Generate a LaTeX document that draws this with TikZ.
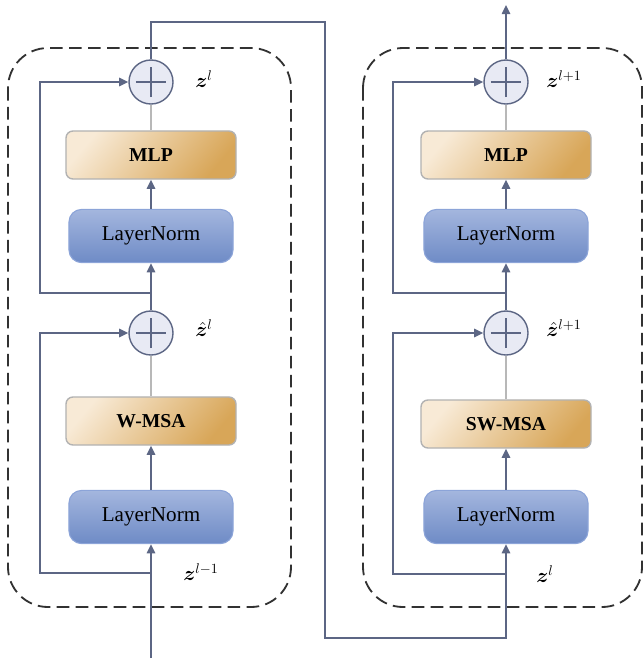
\documentclass[tikz,border=0pt]{standalone}
\usepackage{amsmath, bm}
\usepackage{fontspec}
\setmainfont{Liberation Serif}
\usepackage{tikz}
\usetikzlibrary{calc, positioning, arrows.meta}
\usepackage{xcolor}
\definecolor{colFlow}{RGB}{92, 102, 132}
\definecolor{colMlpA}{RGB}{248, 234, 214}
\definecolor{colMlpB}{RGB}{216, 166, 88}
\definecolor{colLnA}{RGB}{164, 182, 222}
\definecolor{colLnB}{RGB}{110, 139, 198}
\definecolor{colLnBorder}{RGB}{140, 164, 216}
\definecolor{colPlus}{RGB}{232, 234, 244}
\definecolor{colDash}{RGB}{50, 50, 50}

\begin{document}
\begin{tikzpicture}[
  x=0.025cm, y=-0.025cm,
  >={Triangle[length=6.5pt, width=6pt]},
  flow/.style={draw=colFlow, line width=1.1pt},
  faint/.style={draw=black!28, line width=0.9pt},
  mlpbox/.style={rounded corners=5pt, draw=black!30, line width=1pt,
                 top color=colMlpA, bottom color=colMlpB, shading angle=50,
                 minimum width=4.25cm, minimum height=1.2cm,
                 font=\fontsize{14}{16}\selectfont\bfseries},
  lnbox/.style={rounded corners=9pt, draw=colLnBorder, line width=0.8pt,
                top color=colLnA, bottom color=colLnB,
                minimum width=4.1cm, minimum height=1.33cm,
                font=\fontsize{15}{17}\selectfont},
  plusnode/.style={circle, draw=colFlow, line width=1pt, fill=colPlus,
                   minimum size=1.1cm, inner sep=0pt,
                   path picture={
                     \draw[colFlow, line width=0.9pt]
                       ([xshift=-0.38cm]path picture bounding box.center) --
                       ([xshift=0.38cm]path picture bounding box.center)
                       ([yshift=-0.38cm]path picture bounding box.center) --
                       ([yshift=0.38cm]path picture bounding box.center);}},
  zlab/.style={font=\fontsize{14}{16}\selectfont, inner sep=1pt},
  block/.style={draw=colDash, line width=1.3pt, dash pattern=on 9pt off 4.5pt,
                rounded corners=1cm}
]
\useasboundingbox (0,0) rectangle (644,659);

% ---------- Blocs en pointillés ----------
\draw[block] (8,48) rectangle (291,607);
\draw[block] (363,48) rectangle (642,607);

% ---------- Bloc gauche ----------
\node[plusnode] (p1) at (151,82) {};
\node[mlpbox]   (mlp1) at (151,155) {MLP};
\node[lnbox]    (ln1) at (151,236) {LayerNorm};
\node[plusnode] (p2) at (151,333) {};
\node[mlpbox]   (msa1) at (151,421) {W-MSA};
\node[lnbox]    (ln2) at (151,517) {LayerNorm};

\node[zlab] (z1)  at (204,79)  {$\bm{z}^{l}$};
\node[zlab] (zh1) at (204,328) {$\hat{\bm{z}}^{l}$};
\node[zlab] (z0)  at (201,572) {$\bm{z}^{l-1}$};

% ---------- Bloc droit ----------
\node[plusnode] (p3) at (506,82) {};
\node[mlpbox]   (mlp2) at (506,155) {MLP};
\node[lnbox]    (ln3) at (506,236) {LayerNorm};
\node[plusnode] (p4) at (506,333) {};
\node[mlpbox]   (msa2) at (506,424) {SW-MSA};
\node[lnbox]    (ln4) at (506,517) {LayerNorm};

\node[zlab] (z3)  at (564,79)  {$\bm{z}^{l+1}$};
\node[zlab] (zh3) at (564,328) {$\hat{\bm{z}}^{l+1}$};
\node[zlab] (z2)  at (545,574) {$\bm{z}^{l}$};

% ---------- Points de passage ----------
\coordinate (in)    at (151,658);
\coordinate (out)   at (506,5);
\coordinate (turnA) at (325,22);
\coordinate (turnB) at (325,638);
\coordinate (j1) at (151,293);
\coordinate (j2) at (151,573);
\coordinate (j3) at (506,293);
\coordinate (j4) at (506,574);
\coordinate (skipL) at (40,0);
\coordinate (skipR) at (393,0);

% ---------- Flux bloc gauche ----------
\draw[flow, ->] (in) -- (ln2.south);
\draw[flow, ->] (ln2.north) -- (msa1.south);
\draw[faint] (msa1.north) -- (p2.south);
\draw[flow, ->] (p2.north) -- (ln1.south);
\draw[flow, ->] (ln1.north) -- (mlp1.south);
\draw[faint] (mlp1.north) -- (p1.south);
\draw[flow, ->] (j2) -- (j2 -| skipL) |- (p2.west);
\draw[flow, ->] (j1) -- (j1 -| skipL) |- (p1.west);

% ---------- Liaison entre les blocs ----------
\draw[flow, ->] (p1.north) |- (turnA) -- (turnB) -| (ln4.south);

% ---------- Flux bloc droit ----------
\draw[flow, ->] (ln4.north) -- (msa2.south);
\draw[faint] (msa2.north) -- (p4.south);
\draw[flow, ->] (p4.north) -- (ln3.south);
\draw[flow, ->] (ln3.north) -- (mlp2.south);
\draw[faint] (mlp2.north) -- (p3.south);
\draw[flow, ->] (j4) -- (j4 -| skipR) |- (p4.west);
\draw[flow, ->] (j3) -- (j3 -| skipR) |- (p3.west);
\draw[flow, ->] (p3.north) -- (out);

\end{tikzpicture}
\end{document}
